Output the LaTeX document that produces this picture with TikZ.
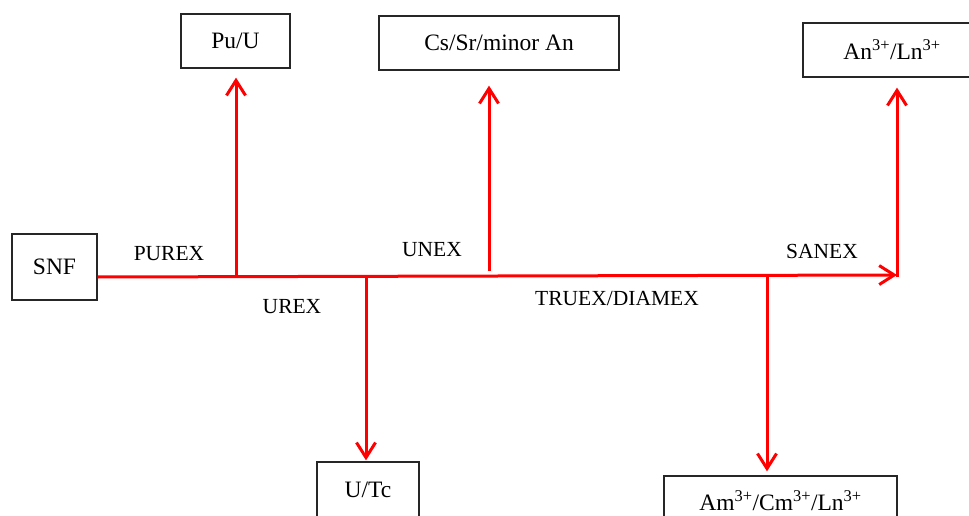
\documentclass[tikz,border=0pt]{standalone}
\usepackage{fontspec}
\setmainfont{Liberation Serif}
\usetikzlibrary{arrows.meta,calc}

\tikzset{
  box/.style={draw=black!85, line width=1.3pt, inner sep=0pt, font=\fontsize{23.5}{26}\selectfont},
  lbl/.style={anchor=base, inner sep=0pt, font=\fontsize{21.5}{24}\selectfont},
  flow/.style={draw=red, line width=3pt},
  flowarrow/.style={flow, -{Straight Barb[length=15pt,width=19pt,line width=3pt]}},
}

\begin{document}
\begin{tikzpicture}[x=1pt,y=-1pt]
  \clip (0,0) rectangle (969,516);

  % boxes (sources and products)
  \node[box, minimum width=85pt, minimum height=66pt]  (snf) at (54.5,267) {SNF};
  \node[box, minimum width=109pt, minimum height=54pt] (puu) at (235.5,41) {Pu/U};
  \node[box, minimum width=240pt, minimum height=54pt] (cs)  at (499,43) {Cs/Sr/minor An};
  \node[box, minimum width=178pt, minimum height=54pt] (anln) at (892,50) {An\textsuperscript{3+}/Ln\textsuperscript{3+}};
  \node[box, minimum width=102pt, minimum height=56pt] (utc) at (368,490) {U/Tc};
  \node[box, minimum width=233pt, minimum height=50pt] (amcm) at (780.5,501) {Am\textsuperscript{3+}/Cm\textsuperscript{3+}/Ln\textsuperscript{3+}};

  % points along the main process line
  \coordinate (pPurex) at (236,276.5);
  \coordinate (pUrex)  at (366,276.5);
  \coordinate (pUnex)  at (489,271);
  \coordinate (pTruex) at (767,275.5);
  \coordinate (pEnd)   at (897,275);

  % main process line
  \draw[flowarrow] (snf.east |- 0,277) -- (pEnd);

  % branches to the products
  \draw[flowarrow, shorten >=9pt]  (pPurex) -- (pPurex |- puu.south);
  \draw[flowarrow, shorten >=15pt] (pUnex)  -- (pUnex |- cs.south);
  \draw[flowarrow, shorten >=10pt] ($(pEnd)+(0,1.5)$) -- (pEnd |- anln.south);
  \draw[flowarrow, shorten >=1pt]  (pUrex)  -- (pUrex |- utc.north);
  \draw[flowarrow, shorten >=4pt]  (pTruex) -- (pTruex |- amcm.north);

  % process labels
  \node[lbl] (lPurex) at (169,260) {PUREX};
  \node[lbl] (lUrex)  at (292,313) {UREX};
  \node[lbl] (lUnex)  at (432,256) {UNEX};
  \node[lbl] (lTruex) at (617,305) {TRUEX/DIAMEX};
  \node[lbl] (lSanex) at (822,258) {SANEX};
\end{tikzpicture}
\end{document}
